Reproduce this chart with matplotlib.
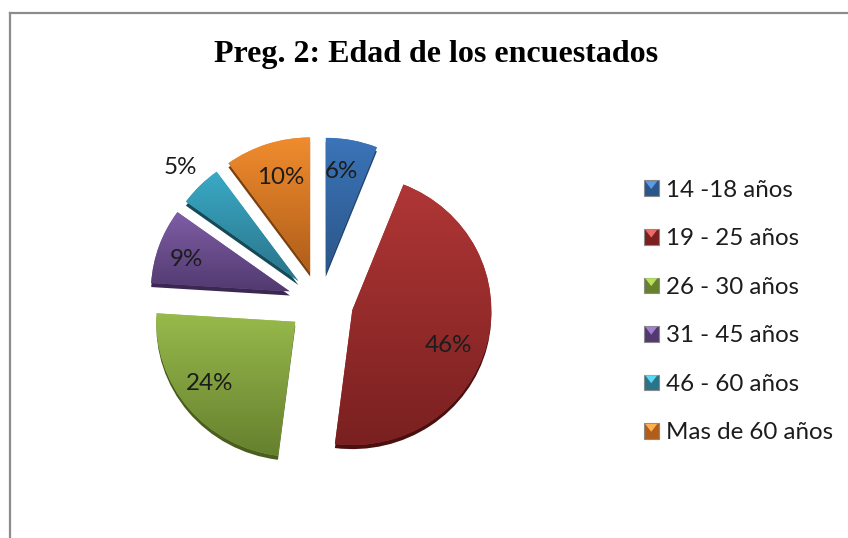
#! -*- coding: utf-8 -*-
import numpy as np
import matplotlib
matplotlib.use('Agg')
import matplotlib.pyplot as plt
from matplotlib.colors import LinearSegmentedColormap
from matplotlib.legend_handler import HandlerPatch
from matplotlib.lines import Line2D
from matplotlib.patches import Patch, Polygon, Rectangle

# --- data ---
TITLE = 'Preg. 2: Edad de los encuestados'
labels = ['14 -18 años', '19 - 25 años', '26 - 30 años', '31 - 45 años', '46 - 60 años', 'Mas de 60 años']
values = [6, 46, 24, 9, 5, 10]

# --- style ---
top_colors = ['#3b74b8', '#b03636', '#97ba4c', '#7f5ea6', '#3aaac6', '#f08c2e']
bottom_colors = ['#2b5689', '#7a2020', '#66802e', '#523a70', '#2a7389', '#b05e1a']
rim_colors = ['#224570', '#4a1010', '#4a5e20', '#3a2852', '#164a58', '#7a4010']
key_light = ['#5c9be6', '#ec6a6a', '#b8e05c', '#a27fd0', '#5ad8f4', '#ffb04c']
explode = [0.22, 0.24, 0.23, 0.23, 0.22, 0.23]
# label positions in pixels of the picture
label_px = [(341, 172), (448, 345), (210, 383), (186, 259), (180, 168), (281, 177)]

W, H = 848, 538
CX, CY, RX, RY = 320, 302, 139, 135
HALF = 207  # half size of the axes in pixels


def px_to_data(x, y):
    return (x - CX) / RX, (CY - y) / RY


class BevelHandler(HandlerPatch):
    # small square with a light triangle on top, like the Excel legend keys
    def create_artists(self, legend, orig_handle, xdescent, ydescent, width, height, fontsize, trans):
        x0, y0 = -xdescent, -ydescent
        square = Rectangle((x0, y0), width, height, facecolor=orig_handle.get_facecolor(),
                           edgecolor=orig_handle.get_edgecolor(), linewidth=0.8, transform=trans)
        tri = Polygon([(x0 + 1, y0 + height - 0.5), (x0 + width - 1, y0 + height - 0.5),
                       (x0 + width / 2, y0 + height * 0.45)], closed=True,
                      facecolor=orig_handle.get_label(), edgecolor='none', transform=trans)
        return [square, tri]


def main():
    fig = plt.figure(figsize=(W / 100, H / 100), dpi=100, facecolor='white')
    ax = fig.add_axes([(CX - HALF) / W, (H - CY - HALF) / H, 2 * HALF / W, 2 * HALF / H])

    # --- dark rim: same pie moved a little down ---
    ax.pie(values, explode=explode, startangle=90, counterclock=False, colors=rim_colors,
           center=(0, -0.03), radius=1.0)

    # --- main pie ---
    wedges, _, autotexts = ax.pie(values, explode=explode, startangle=90, counterclock=False,
                                  colors=top_colors, radius=1.0, autopct='%.0f%%',
                                  textprops={'family': 'Lato', 'fontsize': 17.4, 'color': '#1c1c1c'})

    # --- vertical gradient inside each wedge ---
    grad = np.linspace(0, 1, 256).reshape(-1, 1)
    for w, c0, c1 in zip(wedges, top_colors, bottom_colors):
        cmap = LinearSegmentedColormap.from_list('w', [c0, c1])
        path = w.get_path().transformed(w.get_patch_transform())
        bb = path.get_extents()
        im = ax.imshow(grad, cmap=cmap, aspect='auto', zorder=w.get_zorder() + 0.5,
                       extent=(bb.x0, bb.x1, bb.y0, bb.y1), origin='upper')
        im.set_clip_path(w)

    for t, (x, y) in zip(autotexts, label_px):
        t.set_position(px_to_data(x, y))
        t.set_zorder(10)

    # the pie is a little flattened by the 3D tilt
    ax.set_aspect('auto')
    ax.set_xlim(-HALF / RX, HALF / RX)
    ax.set_ylim(-HALF / RY, HALF / RY)
    ax.axis('off')

    # --- title ---
    fig.text(436 / W, 1 - 55 / H, TITLE, family='Liberation Serif', fontweight='bold',
             fontsize=23, color='black', ha='center', va='center')

    # --- legend ---
    handles = [Patch(facecolor=c, edgecolor='#8a8a8a', label=t) for c, t in zip(bottom_colors, key_light)]
    leg = fig.legend(handles, labels, loc='upper left', bbox_to_anchor=(622 / W, 1 - 158 / H), frameon=False,
                     prop={'family': 'Lato', 'size': 17.4}, labelspacing=1.14, handlelength=0.62,
                     handleheight=0.62, handletextpad=0.29,
                     handler_map={Patch: BevelHandler()})
    for t in leg.get_texts():
        t.set_color('#1c1c1c')

    # --- frame: only top and left are inside the picture ---
    frame_color = '#8c8c8c'
    fig.add_artist(Line2D([10 / W, 10 / W], [0, 1 - 13 / H], color=frame_color, lw=1.6))
    fig.add_artist(Line2D([10 / W, 1], [1 - 13 / H, 1 - 13 / H], color=frame_color, lw=1.6))

    fig.savefig('out.png', dpi=100)
    plt.close()


if __name__ == '__main__':
    main()
